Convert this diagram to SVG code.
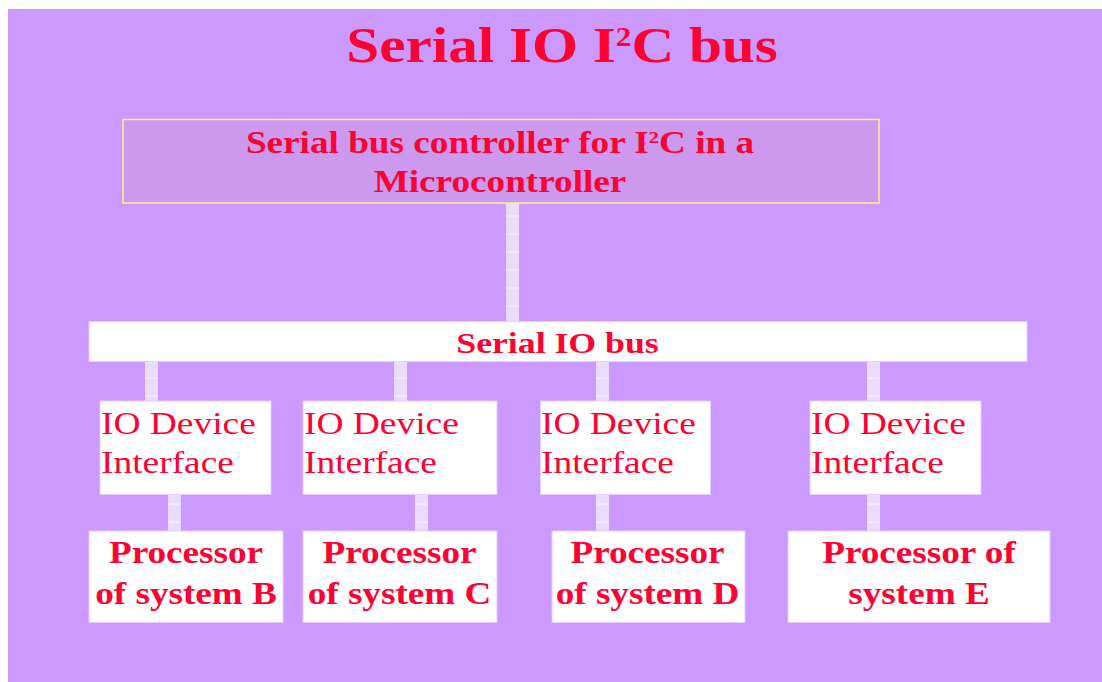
<svg xmlns="http://www.w3.org/2000/svg" width="1102" height="682" viewBox="0 0 1102 682">
<style>
.t{fill:#FF0033;font-family:"Liberation Serif","Times New Roman",serif}
.b{font-weight:bold}
.box{fill:#FFFFFF;stroke:#E6CCFF;stroke-width:1}
.conn{fill:url(#stripe)}
</style>
<defs>
<pattern id="stripe" patternUnits="userSpaceOnUse" x="0" y="1.5" width="20" height="18">
<rect width="20" height="18" fill="#EADCFF"/>
<rect y="16" width="20" height="1.2" fill="#F7F1FF"/>
</pattern>
</defs>
<rect x="0" y="0" width="1102" height="682" fill="#FFFFFF"/>
<rect x="8" y="9" width="1094" height="673" fill="#CC99FF"/>
<text class="t b" font-size="51" text-anchor="middle" transform="translate(562,62) scale(1.16,1)">Serial IO I<tspan font-size="27" dy="-16">2</tspan><tspan dy="16">C bus</tspan></text>
<g id="connectors">
<rect class="conn" x="506" y="200" width="13" height="122"/>
<rect class="conn" x="145" y="361" width="13" height="40"/>
<rect class="conn" x="394" y="361" width="13" height="40"/>
<rect class="conn" x="596" y="361" width="13" height="40"/>
<rect class="conn" x="867" y="361" width="13" height="40"/>
<rect class="conn" x="168" y="494" width="13" height="37"/>
<rect class="conn" x="415" y="494" width="13" height="37"/>
<rect class="conn" x="596" y="494" width="13" height="37"/>
<rect class="conn" x="867" y="494" width="13" height="37"/>
</g>
<g id="controller">
<rect x="123" y="119.5" width="756" height="83.5" fill="#CC99EE" stroke="#FFEE88" stroke-width="1.5"/>
<text class="t b" font-size="31" text-anchor="middle" transform="translate(500,153) scale(1.2,1)">Serial bus controller for I<tspan font-size="17" dy="-10">2</tspan><tspan dy="10">C in a</tspan></text>
<text class="t b" font-size="31" text-anchor="middle" transform="translate(500,192) scale(1.2,1)">Microcontroller</text>
</g>
<g id="bus">
<rect class="box" x="89" y="321.5" width="938" height="40"/>
<text class="t b" font-size="30" text-anchor="middle" transform="translate(557.5,353) scale(1.19,1)">Serial IO bus</text>
</g>
<g id="io1">
<rect class="box" x="100" y="401" width="171" height="93.5"/>
<text class="t" font-size="32" transform="translate(101,434) scale(1.17,1)">IO Device</text>
<text class="t" font-size="32" transform="translate(101,473) scale(1.17,1)">Interface</text>
</g>
<g id="io2">
<rect class="box" x="303" y="401" width="194" height="93.5"/>
<text class="t" font-size="32" transform="translate(304,434) scale(1.17,1)">IO Device</text>
<text class="t" font-size="32" transform="translate(304,473) scale(1.17,1)">Interface</text>
</g>
<g id="io3">
<rect class="box" x="540.5" y="401" width="170" height="93.5"/>
<text class="t" font-size="32" transform="translate(541,434) scale(1.17,1)">IO Device</text>
<text class="t" font-size="32" transform="translate(541,473) scale(1.17,1)">Interface</text>
</g>
<g id="io4">
<rect class="box" x="810" y="401" width="171" height="93.5"/>
<text class="t" font-size="32" transform="translate(811,434) scale(1.17,1)">IO Device</text>
<text class="t" font-size="32" transform="translate(811,473) scale(1.17,1)">Interface</text>
</g>
<g id="procB">
<rect class="box" x="89" y="531" width="194" height="91.5"/>
<text class="t b" font-size="31.5" text-anchor="middle" transform="translate(186,563) scale(1.18,1)">Processor</text>
<text class="t b" font-size="31.5" text-anchor="middle" transform="translate(186,604) scale(1.18,1)">of system B</text>
</g>
<g id="procC">
<rect class="box" x="303" y="531" width="194" height="91.5"/>
<text class="t b" font-size="31.5" text-anchor="middle" transform="translate(399.5,563) scale(1.18,1)">Processor</text>
<text class="t b" font-size="31.5" text-anchor="middle" transform="translate(399.5,604) scale(1.18,1)">of system C</text>
</g>
<g id="procD">
<rect class="box" x="552" y="531" width="193" height="91.5"/>
<text class="t b" font-size="31.5" text-anchor="middle" transform="translate(647.5,563) scale(1.18,1)">Processor</text>
<text class="t b" font-size="31.5" text-anchor="middle" transform="translate(647.5,604) scale(1.18,1)">of system D</text>
</g>
<g id="procE">
<rect class="box" x="788" y="531" width="262" height="91.5"/>
<text class="t b" font-size="31.5" text-anchor="middle" transform="translate(919,563) scale(1.18,1)">Processor of</text>
<text class="t b" font-size="31.5" text-anchor="middle" transform="translate(919,604) scale(1.18,1)">system E</text>
</g>
</svg>
